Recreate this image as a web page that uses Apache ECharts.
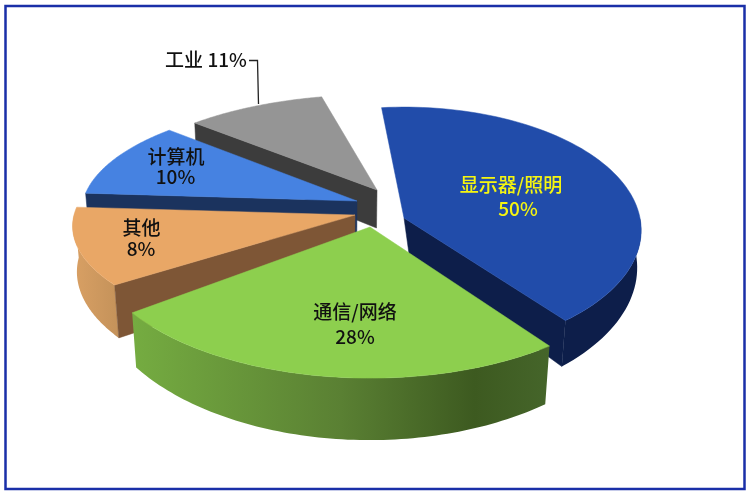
<!DOCTYPE html>
<html>
<head>
<meta charset="utf-8">
<style>html,body{margin:0;padding:0;background:#fff}#c{width:750px;height:495px}</style>
<script src="https://cdn.jsdelivr.net/npm/echarts@6/dist/echarts.min.js"></script>
</head>
<body>
<div id="c"></div>
<script>
// Data as printed on the chart
const categories = ['显示器/照明', '通信/网络', '其他', '计算机', '工业'];
const printedPercent = [50, 28, 8, 10, 11];
// Share of the circle each wedge actually occupies in the picture (the printed labels sum to 107)
const drawnShare = [40.8, 25.0, 11.25, 10.8, 9.4];

// Layout and style
const startDeg = 96;
const gapBeforeDeg = [0, 2.7, 0, 0, 0];
const perspective = 0.1;
const apexX = [404, 370, 355, 357, 377];
const apexY = [218, 227, 215, 201, 190];
const radiusX = [236, 278, 281, 274, 266];
const radiusY = [122, 136, 111, 111, 105];
const wallH = [37, 46.5, 45, 42, 38];
const apexLean = [6, 0, 0, 0, 0];
const flatWall = ['end', 'none', 'start', 'start', 'start'];
const drawOrder = [4, 0, 3, 2, 1];
const topColor = ['#214CAA', '#8DCF4E', '#E9A766', '#4682E1', '#959595'];
const flatColor = ['#0D1E4A', '#3C5A20', '#7E5636', '#1B335E', '#3C3C3C'];
const grad = (stops) => ({type: 'linear', x: 0, y: 0, x2: 1, y2: 0,
  colorStops: stops.map(s => ({offset: s[0], color: s[1]}))});
const arcColor = [
  '#0D1E4A',
  grad([[0, '#75AC41'], [0.5, '#5A8033'], [0.82, '#3D5A20'], [1, '#45652A']]),
  grad([[0, '#D9A064'], [1, '#C4925A']]),
  '#1B335E', '#3C3C3C'
];
const nameX = [511, 355, 141.5, 176, 206];
const nameY = [185, 312, 228, 156.5, 60];
const valueX = [518, 355, 141, 175.5, 0];
const valueY = [209, 336.5, 248.5, 176.5, 0];
const labelColor = ['#F5F510', '#111', '#111', '#111', '#111'];
const labelFont = '500 19px "Noto Sans CJK SC","Noto Sans",sans-serif';

function project(i, deg) {
  const t = deg * Math.PI / 180, s = Math.sin(t), c = Math.cos(t), w = 1 + perspective * s;
  return [apexX[i] + radiusX[i] * c / w, apexY[i] - radiusY[i] * s / w];
}
function lower(i, p, deg) {
  const h = wallH[i] / (1 + 0.25 * Math.sin(deg * Math.PI / 180));
  return [p[0] + (340 - p[0]) * h * 0.00035, p[1] + h];
}
function sweep(i) {
  let a = startDeg;
  for (let j = 0; j < i; j++) a -= drawnShare[j] * 3.6 + gapBeforeDeg[j + 1];
  return [a, a - drawnShare[i] * 3.6];
}
function labelText(x, y, text, color) {
  return {type: 'text', z2: 100, style: {x: x, y: y, text: text, fill: color,
    font: labelFont, align: 'center', verticalAlign: 'middle'}};
}

function renderItem(params, api) {
  const i = api.value(0);
  const [a0, a1] = sweep(i);
  const children = [];
  const N = 80;
  const arc = [];
  for (let n = 0; n <= N; n++) arc.push(a0 + (a1 - a0) * n / N);

  // curved outer wall: only the part facing the viewer
  const front = arc.filter(d => Math.sin(d * Math.PI / 180) < 0.02);
  if (front.length > 1) {
    const upper = front.map(d => project(i, d));
    const bottom = front.map((d, n) => lower(i, upper[n], d)).reverse();
    children.push({type: 'polygon', shape: {points: upper.concat(bottom)},
      style: {fill: arcColor[i], stroke: null}});
  }
  // flat cut wall
  if (flatWall[i] !== 'none') {
    const d = flatWall[i] === 'start' ? a0 : a1;
    const apex = [apexX[i], apexY[i]], edge = project(i, d);
    const apexLow = lower(i, apex, 0);
    apexLow[0] += apexLean[i];
    children.push({type: 'polygon',
      shape: {points: [apex, edge, lower(i, edge, d), apexLow]},
      style: {fill: flatColor[i], stroke: flatColor[i], lineWidth: 0.5}});
  }
  // top face
  const top = [[apexX[i], apexY[i]]].concat(arc.map(d => project(i, d)));
  children.push({type: 'polygon', shape: {points: top},
    style: {fill: topColor[i], stroke: topColor[i], lineWidth: 0.5}});
  // labels
  const pct = api.value(1) + '%';
  if (i === 4) {
    children.push(labelText(nameX[i], nameY[i], categories[i] + ' ' + pct, labelColor[i]));
  } else {
    children.push(labelText(nameX[i], nameY[i], categories[i], labelColor[i]));
    children.push(labelText(valueX[i], valueY[i], pct, labelColor[i]));
  }
  return {type: 'group', children: children};
}

const chart = echarts.init(document.getElementById('c'), null, {renderer: 'canvas'});
chart.setOption({
  animation: false,
  backgroundColor: '#fff',
  graphic: [
    {type: 'rect', shape: {x: 5.5, y: 6, width: 739, height: 483},
      style: {fill: null, stroke: '#1A2FA8', lineWidth: 2.5}},
    {type: 'polyline', shape: {points: [[249, 60.5], [257.5, 60.5], [258.5, 104]]},
      style: {fill: null, stroke: '#222', lineWidth: 1.3}}
  ],
  series: [{
    type: 'custom',
    coordinateSystem: 'none',
    renderItem: renderItem,
    silent: true,
    data: drawOrder.map(i => [i, printedPercent[i]])
  }]
});
</script>
</body>
</html>
